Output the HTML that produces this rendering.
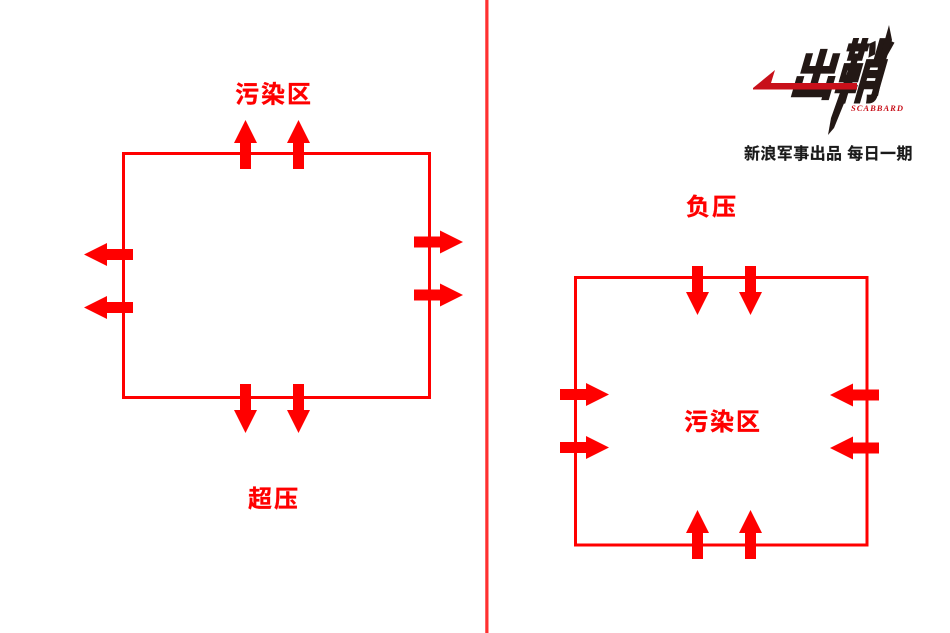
<!DOCTYPE html>
<html lang="zh">
<head>
<meta charset="utf-8">
<title>超压与负压</title>
<style>
html,body{margin:0;padding:0;background:#fff;width:950px;height:633px;overflow:hidden}
svg{display:block}
.t{font-family:"Liberation Sans","Noto Sans CJK SC",sans-serif;font-weight:700;fill:#ff0000;stroke:#ff0000;stroke-width:.3px;font-size:24px;letter-spacing:2px}
.c{font-family:"Liberation Sans","Noto Sans CJK SC",sans-serif;font-weight:700;fill:#1a1a1a;stroke:#1a1a1a;stroke-width:.2px;font-size:16px;letter-spacing:.4px}
.l{font-family:"Liberation Sans","Noto Sans CJK SC",sans-serif;font-weight:900;fill:#231815}
</style>
</head>
<body>
<svg width="950" height="633" viewBox="0 0 950 633" xmlns="http://www.w3.org/2000/svg">
<defs>
<polygon id="u" points="0,0 11.5,23 5.5,23 5.5,49 -5.5,49 -5.5,23 -11.5,23" fill="#ff0000"/>
</defs>
<rect x="485" y="0" width="4" height="633" fill="#ff9a9a"/>
<rect x="485.5" y="0" width="2.5" height="633" fill="#ff3030"/>

<rect x="123.5" y="153.5" width="306" height="244" fill="none" stroke="#ff0000" stroke-width="3"/>
<use href="#u" transform="translate(245.5,120)"/>
<use href="#u" transform="translate(298.5,120)"/>
<use href="#u" transform="translate(245.5,433) rotate(180)"/>
<use href="#u" transform="translate(298.5,433) rotate(180)"/>
<use href="#u" transform="translate(84,254.5) rotate(-90)"/>
<use href="#u" transform="translate(84,307.5) rotate(-90)"/>
<use href="#u" transform="translate(463,242) rotate(90)"/>
<use href="#u" transform="translate(463,295) rotate(90)"/>

<rect x="575.5" y="277.5" width="291.5" height="267.5" fill="none" stroke="#ff0000" stroke-width="3"/>
<use href="#u" transform="translate(697.5,315) rotate(180)"/>
<use href="#u" transform="translate(750.5,315) rotate(180)"/>
<use href="#u" transform="translate(697.5,510)"/>
<use href="#u" transform="translate(750.5,510)"/>
<use href="#u" transform="translate(609,394.5) rotate(90)"/>
<use href="#u" transform="translate(609,447.5) rotate(90)"/>
<use href="#u" transform="translate(830,395) rotate(-90)"/>
<use href="#u" transform="translate(830,448) rotate(-90)"/>

<text class="t" x="235" y="102.5">污染区</text>
<text class="t" x="248" y="507">超压</text>
<text class="t" x="686" y="215">负压</text>
<text class="t" x="684" y="430">污染区</text>

<text class="l" font-size="50" font-weight="700" transform="translate(788,95) skewX(-16) scale(.92,1.08)">出</text>
<text class="l" font-size="60" font-weight="700" transform="translate(832,97) skewX(-16) scale(.8,1.15)">鞘</text>
<polygon points="848,70 860,64 834,128 828,135 831,118" fill="#231815"/>
<polygon points="889,25 892,40 886,60 878,96 872,94 882,50" fill="#231815"/>
<polygon points="753,88 775,70 771,83 857,83 857,89.5 753,89.5" fill="#c8101a"/>
<text x="851" y="111" font-family="'Liberation Serif',serif" font-style="italic" font-weight="700" font-size="8.5" fill="#c8101a" textLength="52" lengthAdjust="spacing">SCABBARD</text>

<text class="c" x="744" y="159">新浪军事出品 每日一期</text>
</svg>
</body>
</html>
